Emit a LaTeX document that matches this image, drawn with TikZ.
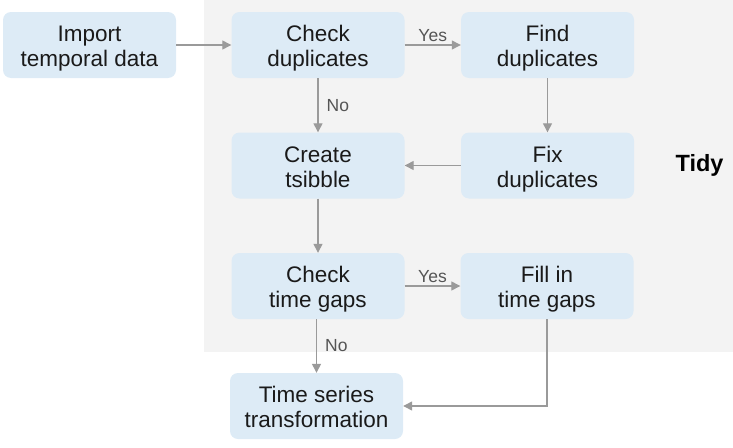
\documentclass[tikz,border=0pt]{standalone}
\usepackage{fontspec}
\setmainfont{Liberation Sans}
\usetikzlibrary{arrows.meta}
\definecolor{boxfill}{HTML}{DDEBF6}
\definecolor{tidybg}{HTML}{F3F3F3}
\definecolor{arr}{HTML}{9A9A9A}
\definecolor{txt}{HTML}{1A1A1A}
\definecolor{labtxt}{HTML}{555555}
\newcommand{\topst}{\rule{0pt}{23pt}}
\newcommand{\botst}{\rule[-5pt]{0pt}{5pt}}
\begin{document}
\begin{tikzpicture}[x=1pt,y=-1pt,
  box/.style={fill=boxfill, rounded corners=8pt, minimum width=173pt, minimum height=66pt,
    align=center, font=\fontsize{22.5}{25}\selectfont, text=txt, inner sep=0pt},
  conn/.style={draw=arr, line width=1.3pt, -{Triangle[length=9pt,width=9pt]}},
  lab/.style={font=\fontsize{17.5}{19}\selectfont, text=labtxt, inner sep=0pt}]
\useasboundingbox (0,0) rectangle (733,447);
\fill[tidybg] (204,0) rectangle (733,352);
\node[box] (imp) at (89.5,45) {\topst Import\\temporal data\botst};
\node[box] (chk) at (318,45) {\topst Check\\duplicates\botst};
\node[box] (find) at (547.5,45) {\topst Find\\duplicates\botst};
\node[box] (create) at (318,165.5) {\topst Create\\tsibble\botst};
\node[box] (fix) at (547.5,165.5) {\topst Fix\\duplicates\botst};
\node[box] (gaps) at (318,286) {\topst Check\\time gaps\botst};
\node[box] (fill) at (547,286) {\topst Fill in\\time gaps\botst};
\node[box] (ts) at (316.5,406) {\topst Time series\\transformation\botst};
\node[font=\bfseries\fontsize{23.5}{26}\selectfont, text=black] (tidy) at (699.5,165) {Tidy};
\draw[conn] (imp) -- (chk);
\draw[conn] (chk) -- node[lab, above=3pt] (yes1) {Yes} (find);
\draw[conn] (chk) -- node[lab, right=8pt] (no1) {No} (create);
\draw[conn] (find) -- (fix);
\draw[conn] (fix) -- (create);
\draw[conn] (create) -- (gaps);
\draw[conn] (gaps) -- node[lab, above=3pt] (yes2) {Yes} (fill);
\draw[conn] (gaps.south -| ts) -- node[lab, right=8pt] (no2) {No} (ts);
\draw[conn] (fill.south) |- (ts.east);
\end{tikzpicture}
\end{document}
